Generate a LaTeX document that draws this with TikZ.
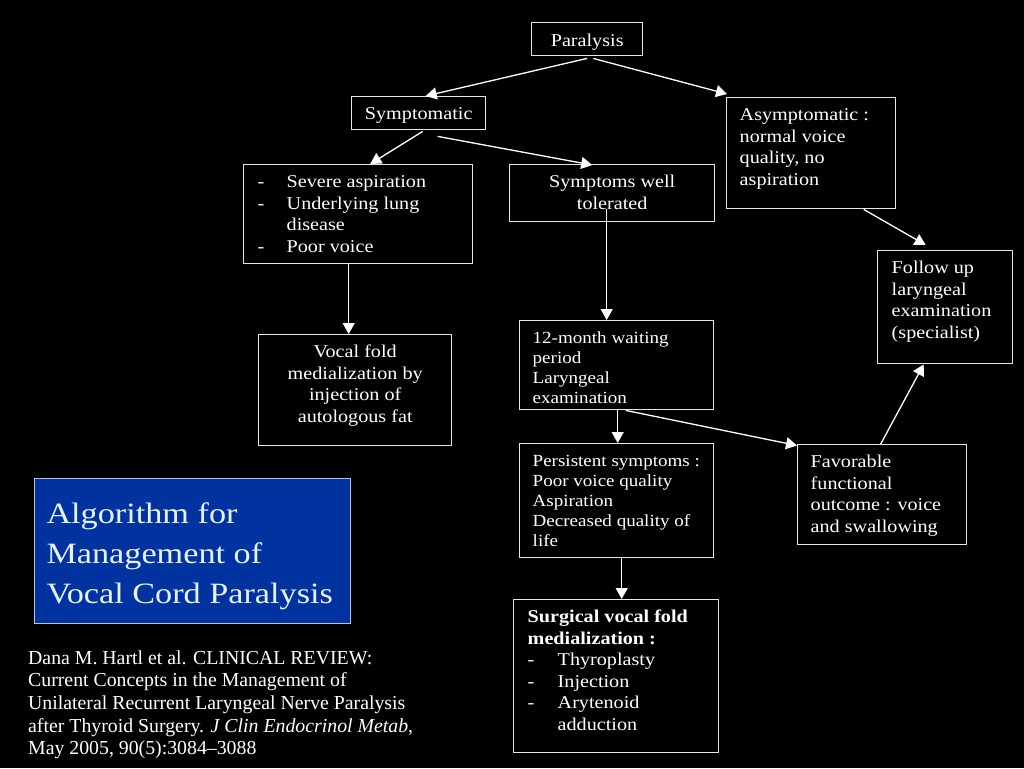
\documentclass[tikz,border=0pt]{standalone}
\usepackage{fontspec}
\setmainfont{Liberation Serif}[FakeStretch=1.12]
\newfontfamily\titlefont{Liberation Serif}[FakeStretch=1.16]
\newfontfamily\citefont{Liberation Serif}
\usetikzlibrary{arrows.meta,calc}
\definecolor{lineC}{HTML}{E6E6E6}
\definecolor{blueF}{HTML}{0033A0}
\definecolor{blueT}{HTML}{E8F2FF}
\newcommand\tbx[4]{\parbox[c][#2][t]{#1}{\vspace*{#3}#4}}
\newcommand\dsh[1][29pt]{\makebox[#1][l]{-}}
\newcommand\lowertext[2]{\raisebox{-#1}[\height][\depth]{#2}}
\begin{document}
\begin{tikzpicture}[x=1pt,y=-1pt,
  box/.style={draw=lineC, line width=1.4pt, fill=black, text=white, inner ysep=0pt, inner xsep=13pt,
    anchor=north west, font=\fontsize{18}{21.5}\selectfont},
  cbox/.style={box, inner sep=0pt},
  arr/.style={draw=white, line width=1.3pt, -{Triangle[length=11pt,width=12pt]}}]
\fill[black] (0,0) rectangle (1024,768);
\useasboundingbox (0,0) rectangle (1024,768);

% nodes
\node[cbox, minimum width=111pt, minimum height=33pt] (par) at (531,22) {\lowertext{2.5pt}{Paralysis}};
\node[cbox, minimum width=134pt, minimum height=33pt] (sym) at (351,96) {\lowertext{2pt}{Symptomatic}};
\node[box] (asym) at (726,97) {\tbx{143pt}{111pt}{8pt}{\raggedright\strut Asymptomatic :\\ normal voice\\ quality, no\\ aspiration}};
\node[box, inner xsep=14pt] (sev) at (243,164) {\tbx{201pt}{99pt}{8pt}{\raggedright\strut\dsh Severe aspiration\\ \dsh Underlying lung\\ \hspace*{29pt}disease\\ \dsh Poor voice}};
\node[box] (stol) at (509,164) {\tbx{179pt}{57pt}{8pt}{\centering\strut Symptoms well\\ tolerated}};
\node[box, inner xsep=14pt] (fol) at (877,250) {\tbx{107pt}{113pt}{8pt}{\raggedright\strut Follow up\\ laryngeal\\ examination\\ (specialist)}};
\node[box] (voc) at (258,334) {\tbx{167pt}{111pt}{8pt}{\centering\strut Vocal fold\\ medialization by\\ injection of\\ autologous fat}};
\node[box, font=\fontsize{17}{20}\selectfont] (mon) at (519,320) {\tbx{168pt}{89pt}{9pt}{\raggedright\strut 12-month waiting\\ period\\ Laryngeal\\ examination}};
\node[box, font=\fontsize{17}{20}\selectfont] (per) at (519,443) {\tbx{168pt}{114pt}{9pt}{\raggedright\strut\mbox{Persistent symptoms :}\\ Poor voice quality\\ Aspiration\\ \mbox{Decreased quality of}\\ life}};
\node[box] (fav) at (797,444) {\tbx{143pt}{100pt}{8pt}{\raggedright\strut Favorable\\ functional\\ outcome : voice\\ and swallowing}};
\node[box, inner xsep=14pt] (sur) at (513,599) {\tbx{177pt}{153pt}{8pt}{\raggedright\strut{\bfseries Surgical vocal fold\\ medialization :}\\ \dsh[30pt]Thyroplasty\\ \dsh[30pt]Injection\\ \dsh[30pt]Arytenoid\\ \hspace*{30pt}adduction}};

\node[draw=lineC!80!blueF, line width=1pt, fill=blueF, text=blueT, anchor=north west, inner xsep=12pt, inner ysep=0pt,
  font=\titlefont\fontsize{29.5}{40}\selectfont] (title) at (34,478)
  {\tbx{292pt}{145pt}{17pt}{\raggedright\strut Algorithm for\\ Management of\\ Vocal Cord Paralysis}};

\node[anchor=north west, inner sep=0pt, text=white, font=\citefont\fontsize{19.8}{22.7}\selectfont] (cite) at (28,648)
  {\parbox[t]{420pt}{\raggedright\strut Dana M. Hartl et al. CLINICAL REVIEW:\\ Current Concepts in the Management of\\ Unilateral Recurrent Laryngeal Nerve Paralysis\\ after Thyroid Surgery. \textit{J Clin Endocrinol Metab},\\ May 2005, 90(5):3084\textendash 3088}};

% connectors
\draw[arr] ([yshift=-2pt]par.south) -- ([xshift=7pt]sym.north);
\draw[arr] ([xshift=6pt,yshift=-2pt]par.south) -- ([shift={(1pt,3pt)}]asym.north west);
\draw[arr] ([xshift=4pt,yshift=-1pt]sym.south) -- ([xshift=12pt]sev.north);
\draw[arr] ([xshift=19pt,yshift=-6pt]sym.south) -- ([xshift=-20pt,yshift=-1pt]stol.north);
\draw[arr] ([xshift=-9.5pt]sev.south) -- ([xshift=-6.5pt]voc.north);
\draw[arr] ([shift={(-5.5pt,13pt)}]stol.south) -- ([xshift=-10pt]mon.north);
\draw[arr] ([xshift=1pt]mon.south) -- ([xshift=1pt]per.north);
\draw[arr] ([xshift=9pt]mon.south) -- ([yshift=-1.5pt]fav.north west);
\draw[arr] ([xshift=5pt]per.south) -- ([xshift=5.5pt]sur.north);
\draw[arr] ([xshift=-1.5pt]fav.north) -- ([xshift=-21.5pt]fol.south);
\draw[arr] ([xshift=52.5pt]asym.south) -- ([xshift=-19.5pt,yshift=5pt]fol.north);
\end{tikzpicture}
\end{document}
